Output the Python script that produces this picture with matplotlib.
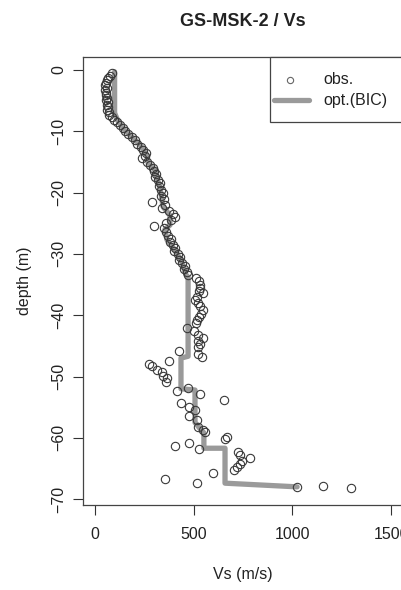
import matplotlib
matplotlib.use("Agg")
import matplotlib.pyplot as plt
from matplotlib.patches import Rectangle

plt.rcParams['font.family'] = ['Liberation Sans', 'DejaVu Sans']

# observed Vs profile (depth in m, negative downwards)
obs_depth = [
    -0.5, -0.9, -1.3, -1.7, -2.1, -2.5, -2.9, -3.3, -3.7, -4.1,
    -4.5, -4.9, -5.3, -5.7, -6.1, -6.5, -6.9, -7.3, -7.7, -8.1,
    -8.5, -9.0, -9.5, -10.0, -10.5, -11.0, -11.5, -12.0, -12.5, -13.0,
    -13.5, -14.0, -14.4, -15.0, -15.5, -16.0, -16.5, -17.0, -17.5, -18.0,
    -18.5, -19.0, -19.5, -20.0, -20.5, -21.0, -21.5, -22.0, -22.5, -23.0,
    -23.5, -24.0, -24.5, -25.0, -25.4, -25.8, -26.5, -27.0, -27.5, -28.0,
    -28.5, -29.0, -29.5, -30.0, -30.5, -31.0, -31.5, -32.0, -32.5, -33.0,
    -33.5, -34.0, -34.5, -35.0, -35.5, -36.0, -36.4, -37.0, -37.5, -38.0,
    -38.5, -39.2, -39.8, -40.3, -40.8, -41.3, -42.1, -42.6, -43.2, -43.7,
    -44.2, -44.7, -45.2, -45.8, -46.3, -46.8, -47.5, -47.9, -48.3, -48.9,
    -49.3, -49.9, -50.3, -50.9, -51.9, -52.4, -52.9, -53.8, -54.3, -55.0,
    -55.5, -56.4, -57.1, -58.2, -58.7, -59.0, -59.8, -60.2, -60.8, -61.3,
    -61.8, -62.3, -62.8, -63.3, -63.8, -64.3, -64.8, -65.3, -65.8, -66.7,
    -67.3, -67.9, -68.0, -68.2,
]
obs_vs = [
    85, 75, 68, 60, 55, 52, 60, 50, 58, 55,
    62, 55, 65, 60, 68, 62, 70, 72, 85, 95,
    110, 125, 140, 155, 170, 190, 205, 215, 235, 245,
    260, 255, 238, 265, 280, 295, 300, 310, 305, 320,
    330, 325, 335, 345, 335, 350, 290, 355, 340, 375,
    395, 405, 385, 360, 300, 350, 360, 370, 385, 380,
    395, 405, 400, 420, 430, 425, 440, 455, 450, 465,
    470, 510, 525, 530, 530, 525, 550, 515, 505, 520,
    530, 545, 535, 525, 515, 510, 466, 500, 520, 548,
    520, 530, 522, 426, 520, 540, 375, 274, 289, 314,
    340, 345, 365, 360, 471, 415, 532, 654, 436, 476,
    507, 476, 517, 522, 547, 557, 669, 659, 476, 405,
    527, 725, 735, 786, 745, 735, 720, 705, 598, 355,
    517, 1156, 1024, 1298,
]

# optimal layered model (BIC) drawn as a polyline
model_vs = [100, 100, 110, 120, 150, 190, 228, 264, 270, 304, 314, 330, 340,
            345, 380, 380, 355, 365, 405, 430, 446, 461, 472, 472, 436, 436,
            507, 507, 530, 552, 552, 659, 659, 1024]
model_depth = [-0.3, -7.0, -7.8, -8.5, -9.8, -11.0, -12.2, -13.9, -15.2, -16.3,
               -17.6, -19.2, -21.2, -22.3, -23.7, -25.3, -26.0, -27.7, -29.4,
               -30.7, -31.8, -33.4, -33.8, -46.7, -47.0, -52.0, -52.2, -57.5,
               -58.4, -59.2, -61.7, -61.7, -67.4, -68.0]

x_ticks = [0, 500, 1000, 1500]
y_ticks = [0, -10, -20, -30, -40, -50, -60, -70]
legend_labels = ["obs.", "opt.(BIC)"]

W, H = 401, 590
fig = plt.figure(figsize=(W / 100, H / 100), dpi=100)
ax = fig.add_axes([83 / W, 1 - 505 / H, 320 / W, 448 / H])

line_col = "#9a9a9a"
pt_col = "#3a3a3a"
txt_col = "#222222"
fs = 11.5

ax.plot(model_vs, model_depth, color=line_col, lw=3.8, solid_capstyle="round",
        solid_joinstyle="round", zorder=2)
ax.plot(obs_vs, obs_depth, ls="none", marker="o", ms=6, mfc="none",
        mec=pt_col, mew=0.8, zorder=3)

ax.set_xlim(-60, 1560)
ax.set_ylim(-70.96, 2.12)
ax.set_xticks(x_ticks)
ax.set_yticks(y_ticks)
ax.tick_params(direction="out", length=7, width=0.8, colors="#333333",
               labelsize=fs, labelcolor=txt_col)
ax.tick_params(axis="x", pad=9)
ax.tick_params(axis="y", pad=5)
for lab in ax.get_yticklabels():
    lab.set_rotation(90)
    lab.set_va("center")
for sp in ax.spines.values():
    sp.set_color("#444444")
    sp.set_linewidth(0.9)

ax.set_xlabel("Vs (m/s)", fontsize=fs, labelpad=18, color=txt_col)
ax.set_ylabel("depth (m)", fontsize=fs, labelpad=14, color=txt_col)
ax.set_title("GS-MSK-2 / Vs", fontsize=13, fontweight="bold", pad=22,
             color=txt_col)

# legend box drawn in figure pixels, like R's legend("topright")
def fx(px):
    return px / W

def fy(py):
    return 1 - py / H

box = Rectangle((fx(270), fy(122)), fx(140), 65 / H, transform=fig.transFigure,
                facecolor="white", edgecolor="#444444", lw=0.9, zorder=5)
fig.patches.append(box)
fig.lines.append(plt.Line2D([fx(290)], [fy(80)], ls="none", marker="o", ms=4.5,
                            mfc="none", mec="#666666", mew=0.8,
                            transform=fig.transFigure, zorder=6))
fig.lines.append(plt.Line2D([fx(274), fx(309)], [fy(100), fy(100)],
                            color=line_col, lw=3.8, solid_capstyle="round",
                            transform=fig.transFigure, zorder=6))
fig.text(fx(323), fy(80), legend_labels[0], fontsize=fs, color=txt_col,
         va="center", ha="left", zorder=7)
fig.text(fx(323), fy(100), legend_labels[1], fontsize=fs, color=txt_col,
         va="center", ha="left", zorder=7)

fig.savefig("out.png", dpi=100)
